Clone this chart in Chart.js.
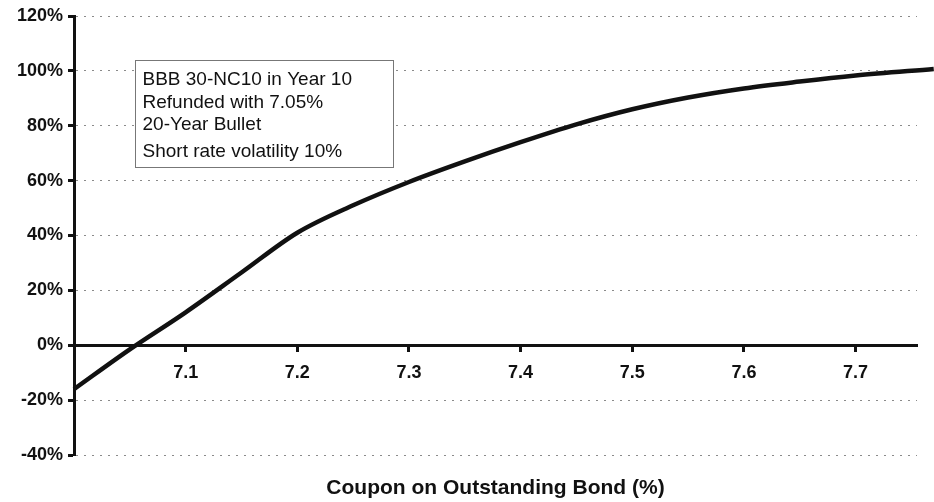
<!DOCTYPE html>
<html>
<head>
<meta charset="utf-8">
<title>Refunding efficiency</title>
<script src="https://cdn.jsdelivr.net/npm/chart.js@4.4.0/dist/chart.umd.min.js"></script>
<style>
  html, body { margin: 0; padding: 0; background: #fff; }
  canvas { display: block; }
</style>
</head>
<body>
<canvas id="chart" width="934" height="502"></canvas>
<script>
// coupon on the outstanding bond (%)
const coupons = [7.00, 7.05, 7.10, 7.15, 7.20, 7.25, 7.30, 7.35, 7.40, 7.45, 7.50, 7.55, 7.60, 7.65, 7.70, 7.77];
// refunding efficiency (%)
const efficiency = [-16, -1.5, 12, 26.5, 41, 51, 59.5, 67, 74, 80.5, 86, 90.3, 93.6, 96.1, 98.3, 100.7];
const xTicks = [7.1, 7.2, 7.3, 7.4, 7.5, 7.6, 7.7];
const yTicks = [-40, -20, 0, 20, 40, 60, 80, 100, 120];
const noteLines = ['BBB 30-NC10 in Year 10', 'Refunded with 7.05%', '20-Year Bullet', 'Short rate volatility 10%'];

const FONT = '"Liberation Sans", Arial, Helvetica, sans-serif';
const INK = '#111';
Chart.defaults.font.family = FONT;
Chart.defaults.color = INK;

// boxed note in the upper left, anchored to axis values
const noteBox = {
  id: 'noteBox',
  afterDatasetsDraw(chart) {
    const { ctx, scales: { x, y } } = chart;
    const left = Math.round(x.getPixelForValue(7.055)) + 0.5;
    const right = Math.round(x.getPixelForValue(7.286)) + 0.5;
    const top = Math.round(y.getPixelForValue(104)) + 0.5;
    const bottom = Math.round(y.getPixelForValue(65)) + 0.5;
    ctx.save();
    ctx.fillStyle = '#fff';
    ctx.fillRect(left, top, right - left, bottom - top);
    ctx.strokeStyle = '#777';
    ctx.lineWidth = 1;
    ctx.strokeRect(left, top, right - left, bottom - top);
    ctx.font = '19px ' + FONT;
    ctx.fillStyle = INK;
    ctx.textBaseline = 'middle';
    const rowOffsets = [19, 42.5, 64.5, 91];
    noteLines.forEach((line, i) => ctx.fillText(line, left + 7, top + rowOffsets[i]));
    ctx.restore();
  }
};

const tickFont = { family: FONT, size: 18, weight: 'bold' };

new Chart(document.getElementById('chart'), {
  type: 'line',
  data: {
    datasets: [{
      data: coupons.map((c, i) => ({ x: c, y: efficiency[i] })),
      xAxisID: 'x',
      yAxisID: 'y',
      borderColor: INK,
      borderWidth: 4.5,
      pointRadius: 0,
      cubicInterpolationMode: 'monotone',
      clip: false
    }]
  },
  options: {
    responsive: false,
    animation: false,
    devicePixelRatio: 1,
    layout: { padding: { top: 16, right: 17, bottom: 0, left: 0 } },
    plugins: { legend: { display: false }, tooltip: { enabled: false } },
    scales: {
      x: {
        type: 'linear',
        min: 7.0,
        max: 7.755,
        position: { y: 0 },
        afterBuildTicks(s) { s.ticks = xTicks.map(v => ({ value: v })); },
        ticks: {
          callback: v => Number(v).toFixed(1),
          font: tickFont,
          color: INK,
          padding: 12,
          maxRotation: 0,
          autoSkip: false
        },
        grid: { drawOnChartArea: false, drawTicks: true, tickLength: 5, tickWidth: 3, tickColor: INK },
        border: { color: INK, width: 3 }
      },
      x2: {
        type: 'linear',
        min: 7.0,
        max: 7.755,
        position: 'bottom',
        ticks: { display: false },
        grid: { display: false },
        border: { display: false },
        title: {
          display: true,
          text: 'Coupon on Outstanding Bond (%)',
          font: { family: FONT, size: 21, weight: 'bold' },
          color: INK,
          padding: { top: 0, bottom: 1 }
        },
        afterFit(s) { s.height = 47; }
      },
      y: {
        type: 'linear',
        min: -40,
        max: 120,
        afterBuildTicks(s) { s.ticks = yTicks.map(v => ({ value: v })); },
        ticks: { callback: v => v + '%', font: tickFont, color: INK, padding: 5 },
        grid: { color: '#8a8a8a', lineWidth: 1, tickColor: INK, tickWidth: 3, tickLength: 6 },
        border: { color: INK, width: 3, dash: [2, 6] },
        afterFit(s) { s.width = 74; }
      }
    }
  },
  plugins: [noteBox]
});
</script>
</body>
</html>
